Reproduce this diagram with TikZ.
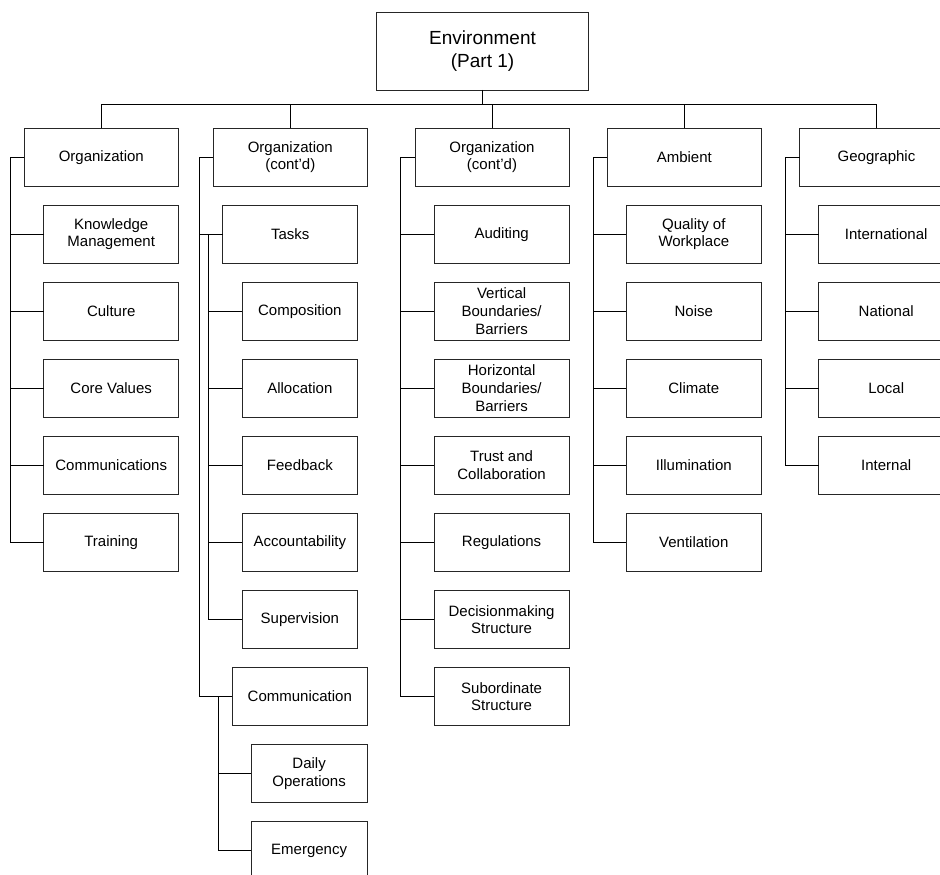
\documentclass[tikz,border=0pt]{standalone}
\usepackage{fontspec}
\setmainfont{Liberation Sans}
\begin{document}
\begin{tikzpicture}[x=1pt,y=-1pt,
  box/.style={draw=black!85,line width=0.9pt,anchor=north west,inner sep=0pt,outer sep=0pt,
    align=center,minimum height=57.7pt,font=\fontsize{15}{17.7}\selectfont},
  lvl/.style={box,minimum width=154pt},
  kid/.style={box,minimum width=135pt},
  kidb/.style={box,minimum width=115.7pt},
  conn/.style={draw=black,line width=0.9pt}]
\useasboundingbox (0,0) rectangle (940,875);
\clip (0,0) rectangle (940,875);
% root
\node[box,minimum width=211.5pt,minimum height=77.3pt,font=\fontsize{19}{23.3}\selectfont] (root) at (376.8,12.7) {Environment\\(Part 1)};
\coordinate (bus) at (0,104.3);
% level 1
\node[lvl] (o1) at (24.3,128.3) {Organization};
\node[lvl] (o2) at (213.3,128.3) {Organization\\(cont’d)};
\node[lvl] (o3) at (415,128.3) {Organization\\(cont’d)};
\node[lvl] (amb) at (607.3,128.3) {Ambient};
\node[lvl] (geo) at (799.5,128.3) {Geographic};
% column 1
\node[kid] (km) at (43.7,205.3) {Knowledge\\Management};
\node[kid] (cul) at (43.7,282.3) {Culture};
\node[kid] (cv) at (43.7,359.3) {Core Values};
\node[kid] (coms) at (43.7,436.3) {Communications};
\node[kid] (tr) at (43.7,513.3) {Training};
% column 2
\node[kid] (tasks) at (222.7,205.3) {Tasks};
\node[kidb] (compo) at (242,282.3) {Composition};
\node[kidb] (alloc) at (242,359.3) {Allocation};
\node[kidb] (feed) at (242,436.3) {Feedback};
\node[kidb] (acc) at (242,513.3) {Accountability};
\node[kidb] (sup) at (242,590.7) {Supervision};
\node[kid] (comm) at (232.3,667.7) {Communication};
\node[kidb] (daily) at (251.3,744.9) {Daily\\Operations};
\node[kidb] (emer) at (251.3,821.7) {Emergency};
% column 3
\node[kid] (aud) at (434.1,205.3) {Auditing};
\node[kid] (vert) at (434.1,282.3) {Vertical\\Boundaries/\\Barriers};
\node[kid] (hor) at (434.1,359.3) {Horizontal\\Boundaries/\\Barriers};
\node[kid] (trust) at (434.1,436.3) {Trust and\\Collaboration};
\node[kid] (reg) at (434.1,513.3) {Regulations};
\node[kid] (dec) at (434.1,590.7) {Decisionmaking\\Structure};
\node[kid] (sub) at (434.1,667.7) {Subordinate\\Structure};
% column 4
\node[kid] (qual) at (626.3,205.3) {Quality of\\Workplace};
\node[kid] (noise) at (626.3,282.3) {Noise};
\node[kid] (clim) at (626.3,359.3) {Climate};
\node[kid] (illum) at (626.3,436.3) {Illumination};
\node[kid] (vent) at (626.3,513.3) {Ventilation};
% column 5
\node[kid] (intl) at (818.7,205.3) {International};
\node[kid] (nat) at (818.7,282.3) {National};
\node[kid] (loc) at (818.7,359.3) {Local};
\node[kid] (inte) at (818.7,436.3) {Internal};
% trunk coordinates
\coordinate (t1) at (10.3,0);
\coordinate (t2) at (199,0);
\coordinate (t2a) at (208.3,0);
\coordinate (t2b) at (218,0);
\coordinate (t3) at (400.3,0);
\coordinate (t4) at (593,0);
\coordinate (t5) at (785,0);
% top bus
\draw[conn] (root.south) -- (root.south |- bus);
\draw[conn] (o1.north) -- (o1.north |- bus) -- (geo.north |- bus) -- (geo.north);
\foreach \n in {o2,o3,amb} \draw[conn] (\n.north) -- (\n.north |- bus);
% column 1
\draw[conn] (o1.west) -| (t1 |- tr.west) -- (tr.west);
\foreach \n in {km,cul,cv,coms} \draw[conn] (t1 |- \n.west) -- (\n.west);
% column 2
\draw[conn] (o2.west) -| (t2 |- comm.west) -- (comm.west);
\draw[conn] (t2 |- tasks.west) -- (tasks.west);
\draw[conn] (t2a |- tasks.west) -- (t2a |- sup.west) -- (sup.west);
\foreach \n in {compo,alloc,feed,acc} \draw[conn] (t2a |- \n.west) -- (\n.west);
\draw[conn] (t2b |- comm.west) -- (t2b |- emer.west) -- (emer.west);
\draw[conn] (t2b |- daily.west) -- (daily.west);
% column 3
\draw[conn] (o3.west) -| (t3 |- sub.west) -- (sub.west);
\foreach \n in {aud,vert,hor,trust,reg,dec} \draw[conn] (t3 |- \n.west) -- (\n.west);
% column 4
\draw[conn] (amb.west) -| (t4 |- vent.west) -- (vent.west);
\foreach \n in {qual,noise,clim,illum} \draw[conn] (t4 |- \n.west) -- (\n.west);
% column 5
\draw[conn] (geo.west) -| (t5 |- inte.west) -- (inte.west);
\foreach \n in {intl,nat,loc} \draw[conn] (t5 |- \n.west) -- (\n.west);
\end{tikzpicture}
\end{document}
